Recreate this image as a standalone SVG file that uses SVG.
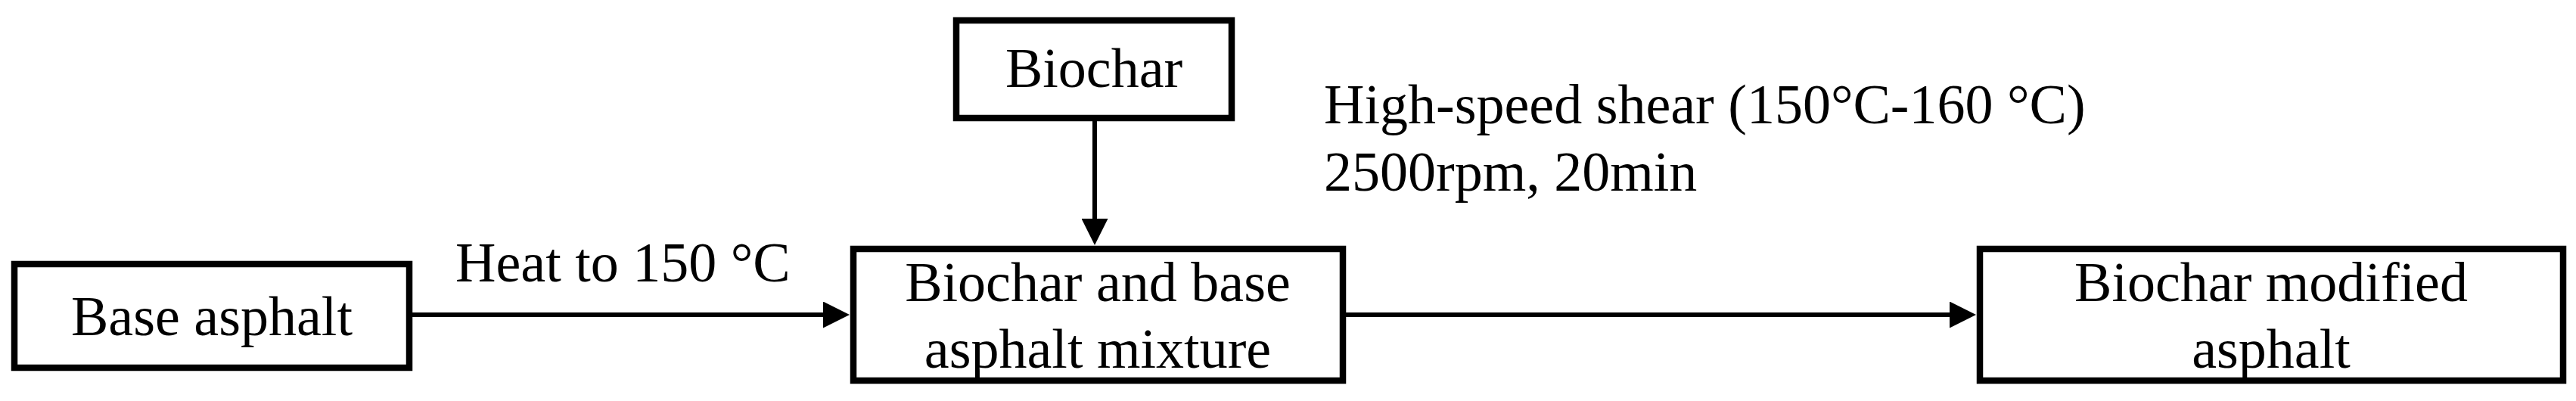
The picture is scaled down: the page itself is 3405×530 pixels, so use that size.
<svg xmlns="http://www.w3.org/2000/svg" width="3405" height="530" viewBox="0 0 3405 530">
<style>
.box{fill:#fff;stroke:#000;stroke-width:8.5}
.t{font-family:"Liberation Serif","Times New Roman",serif;font-size:74px;fill:#000}
.c{text-anchor:middle}
.ln{stroke:#000;stroke-width:6;fill:none}
</style>
<defs>
<marker id="ah" viewBox="0 0 35 35" refX="5" refY="17.5" markerWidth="35" markerHeight="35" markerUnits="userSpaceOnUse" orient="auto">
<path d="M0,0 L35,17.5 L0,35 z" fill="#000"/>
</marker>
</defs>
<rect width="3405" height="530" fill="#fff"/>
<g id="connectors">
<line class="ln" x1="545" y1="416" x2="1093" y2="416" marker-end="url(#ah)"/>
<line class="ln" x1="1447" y1="160" x2="1447" y2="294" marker-end="url(#ah)"/>
<line class="ln" x1="1779" y1="416" x2="2582" y2="416" marker-end="url(#ah)"/>
<text class="t" x="602" y="372">Heat to 150 °C</text>
<text class="t" x="1750" y="163">High-speed shear (150°C-160 °C)</text>
<text class="t" x="1750" y="252">2500rpm, 20min</text>
</g>
<g id="base-asphalt">
<rect class="box" x="19" y="349" width="522" height="137"/>
<text class="t c" x="280" y="443">Base asphalt</text>
</g>
<g id="biochar">
<rect class="box" x="1264" y="27" width="364" height="129"/>
<text class="t c" x="1446" y="115">Biochar</text>
</g>
<g id="mixture">
<rect class="box" x="1128" y="329" width="647" height="174"/>
<text class="t c" x="1451" y="398">Biochar and base</text>
<text class="t c" x="1451" y="486">asphalt mixture</text>
</g>
<g id="modified">
<rect class="box" x="2617" y="329" width="771" height="174"/>
<text class="t c" x="3002" y="398">Biochar modified</text>
<text class="t c" x="3002" y="486">asphalt</text>
</g>
</svg>
